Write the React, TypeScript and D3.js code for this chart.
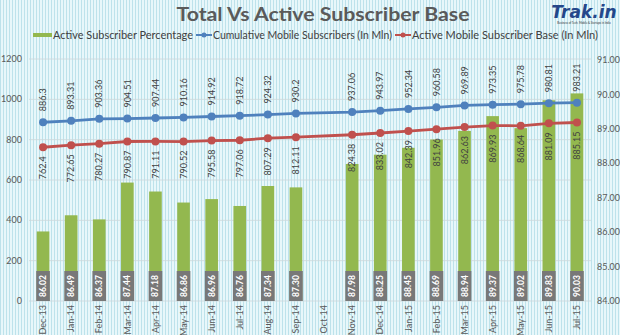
import React from 'react';
import * as d3 from 'd3';

const months = ['Dec-13','Jan-14','Feb-14','Mar-14','Apr-14','May-14','Jun-14','Jul-14','Aug-14','Sep-14','Oct-14','Nov-14','Dec-14','Jan-15','Feb-15','Mar-15','Apr-15','May-15','Jun-15','Jul-15'];
const cumulative: (number | null)[] = [886.3,893.31,903.36,904.51,907.44,910.16,914.92,918.72,924.32,930.2,null,937.06,943.97,952.34,960.58,969.89,973.35,975.78,980.81,983.21];
const activeBase: (number | null)[] = [762.4,772.65,780.27,790.87,791.11,790.52,795.58,797.06,807.29,812.11,null,824.38,833.02,842.39,851.96,862.63,869.93,868.64,881.09,885.15];
const percentage: (number | null)[] = [86.02,86.49,86.37,87.44,87.18,86.86,86.96,86.76,87.34,87.30,null,87.98,88.25,88.45,88.69,88.94,89.37,89.02,89.83,90.03];
const leftTicks = [0,200,400,600,800,1000,1200];
const rightTicks = [84,85,86,87,88,89,90,91];

const FONT = 'Lato, "Open Sans", sans-serif';
const GREEN = '#93b84f';
const BLUE = '#4f81bd';
const RED = '#c0504d';

export default function App() {
  const W = 620, H = 335;
  const x = d3.scalePoint<string>().domain(months).range([29, 591]).padding(0.5);
  const step = x.step();
  const barW = step * 0.45;
  const yL = d3.scaleLinear().domain([0, 1200]).range([301, 59]);
  const yR = d3.scaleLinear().domain([84, 91]).range([301, 60]);
  const fmt2 = d3.format('.2f');

  const pts = (arr: (number | null)[]) =>
    months.map((m, i) => ({ m, v: arr[i] })).filter(d => d.v != null) as { m: string; v: number }[];
  const line = d3.line<{ m: string; v: number }>().x(d => x(d.m)!).y(d => yL(d.v));
  const cumPts = pts(cumulative);
  const actPts = pts(activeBase);
  const pctPts = pts(percentage);

  return (
    <div style={{ position: 'absolute', left: 0, top: 0 }}>
      <svg width={W} height={H} style={{ display: 'block' }} fontFamily={FONT}>
        <defs>
          <pattern id="stripes" width="3" height="4" patternUnits="userSpaceOnUse">
            <rect width="3" height="4" fill="#e8f7fa" />
            <rect width="1" height="4" fill="#bde2eb" />
          </pattern>
        </defs>
        <rect width={W} height={H} fill="url(#stripes)" />

        {/* title */}
        <text x={323} y={21} textAnchor="middle" fontSize={19.5} fontWeight={700} fill="#5a5a5a" textLength={293} lengthAdjust="spacingAndGlyphs">
          Total Vs Active Subscriber Base
        </text>
        {/* logo */}
        <text x={584} y={18} textAnchor="middle" fontSize={17} fontWeight={900} fontStyle="italic" fill="#24478a" fontFamily='"DejaVu Sans", sans-serif'>
          Trak.in
        </text>
        <text x={584} y={24} textAnchor="middle" fontSize={2.8} fill="#333">
          Business of Tech, Mobile &amp; Startups in India
        </text>

        {/* legend */}
        <g fontSize={10.5} fill="#404040">
          <rect x={33} y={33} width={19} height={4} fill={GREEN} />
          <text x={53} y={38.5} textLength={140} lengthAdjust="spacingAndGlyphs">Active Subscriber Percentage</text>
          <line x1={196} x2={212} y1={35} y2={35} stroke={BLUE} strokeWidth={2} />
          <circle cx={204} cy={35} r={2.5} fill={BLUE} />
          <text x={213} y={38.5} textLength={179} lengthAdjust="spacingAndGlyphs">Cumulative Mobile Subscribers (In Mln)</text>
          <line x1={395} x2={411} y1={35} y2={35} stroke={RED} strokeWidth={2} />
          <circle cx={403} cy={35} r={2.5} fill={RED} />
          <text x={412} y={38.5} textLength={186} lengthAdjust="spacingAndGlyphs">Active Mobile Subscriber Base (In Mln)</text>
        </g>

        {/* gridlines */}
        {leftTicks.map(t => (
          <line key={t} x1={29} x2={591} y1={yL(t)} y2={yL(t)} stroke="#cdd7da" strokeWidth={0.8} />
        ))}
        {/* left axis labels */}
        {leftTicks.map(t => (
          <text key={'l' + t} x={22} y={yL(t)} dy="0.35em" textAnchor="end" fontSize={9} fill="#595959">{t}</text>
        ))}
        {/* right axis labels */}
        {rightTicks.map(t => (
          <text key={'r' + t} x={597} y={yR(t)} dy="0.35em" textAnchor="start" fontSize={9} fill="#595959">{fmt2(t)}</text>
        ))}

        {/* bars */}
        {pctPts.map(d => (
          <rect key={'b' + d.m} x={x(d.m)! - barW / 2} y={yR(d.v)} width={barW} height={yR(84) - yR(d.v)} fill={GREEN} />
        ))}
        {/* bar labels */}
        {pctPts.map(d => {
          const cx = x(d.m)!;
          return (
            <g key={'bl' + d.m}>
              <rect x={cx - barW / 2 - 0.5} y={271} width={barW + 1} height={yR(84) - 271} fill="#787878" />
              <text transform={`translate(${cx},${(271 + yR(84)) / 2}) rotate(-90)`} textAnchor="middle" dy="0.35em" fontSize={8.5} fontWeight={700} fill="#ffffff">
                {fmt2(d.v)}
              </text>
            </g>
          );
        })}

        {/* lines */}
        <path d={line(cumPts)!} fill="none" stroke={BLUE} strokeWidth={2.8} />
        <path d={line(actPts)!} fill="none" stroke={RED} strokeWidth={2.8} />
        {cumPts.map(d => (
          <circle key={'cc' + d.m} cx={x(d.m)} cy={yL(d.v)} r={4} fill={BLUE} />
        ))}
        {actPts.map(d => (
          <circle key={'ac' + d.m} cx={x(d.m)} cy={yL(d.v)} r={4} fill={RED} />
        ))}
        {/* line labels */}
        {cumPts.map(d => (
          <text key={'cl' + d.m} transform={`translate(${x(d.m)},${yL(d.v) - 11}) rotate(-90)`} textAnchor="start" dy="0.35em" fontSize={9} fill="#404040">
            {String(d.v)}
          </text>
        ))}
        {actPts.map(d => (
          <text key={'al' + d.m} transform={`translate(${x(d.m)},${yL(d.v) + 9}) rotate(-90)`} textAnchor="end" dy="0.35em" fontSize={9} fill="#404040">
            {String(d.v)}
          </text>
        ))}

        {/* x labels */}
        {months.map(m => (
          <text key={'x' + m} transform={`translate(${x(m)},${305}) rotate(-90)`} textAnchor="end" dy="0.35em" fontSize={9} fill="#595959">
            {m}
          </text>
        ))}
      </svg>
    </div>
  );
}
